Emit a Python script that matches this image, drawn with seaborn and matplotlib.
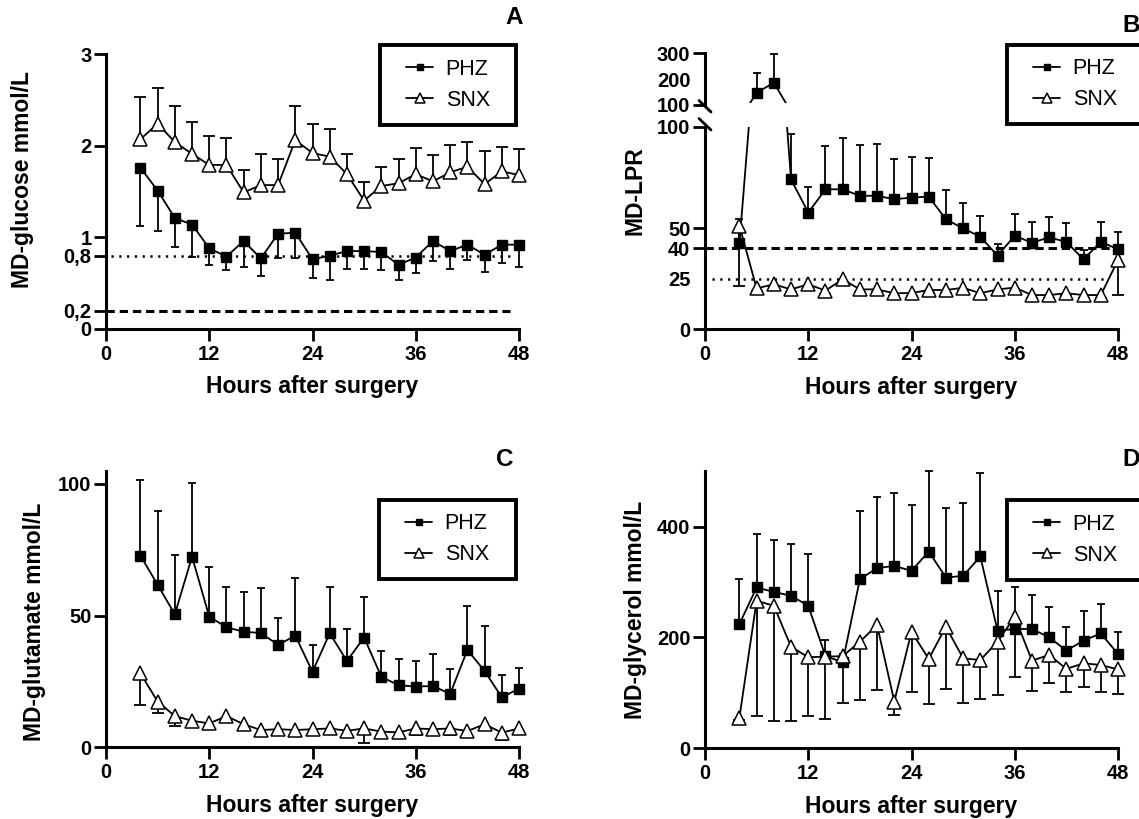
import numpy as np
import pandas as pd
import matplotlib
matplotlib.use("Agg")
import matplotlib.pyplot as plt
import seaborn as sns
from matplotlib.lines import Line2D
from matplotlib.legend_handler import HandlerLine2D
from matplotlib.transforms import Bbox, TransformedBbox

# ---------------- data ----------------
hours = list(range(4, 49, 2))
groups = ["PHZ", "SNX"]

# A: MD-glucose (mmol/L) -- PHZ error bars down, SNX up
glu_phz = [1.76, 1.51, 1.21, 1.14, 0.88, 0.79, 0.96, 0.77, 1.04, 1.05, 0.76, 0.80,
           0.85, 0.85, 0.84, 0.70, 0.78, 0.96, 0.85, 0.92, 0.81, 0.92, 0.92]
glu_phz_sd = [0.64, 0.44, 0.32, 0.35, 0.18, 0.15, 0.28, 0.19, 0.26, 0.28, 0.20, 0.26,
              0.20, 0.19, 0.20, 0.17, 0.17, 0.22, 0.19, 0.17, 0.19, 0.20, 0.24]
glu_snx = [2.07, 2.24, 2.04, 1.91, 1.79, 1.79, 1.49, 1.57, 1.57, 2.06, 1.92, 1.88,
           1.69, 1.40, 1.56, 1.59, 1.69, 1.61, 1.71, 1.77, 1.58, 1.72, 1.68]
glu_snx_sd = [0.46, 0.39, 0.39, 0.35, 0.32, 0.29, 0.24, 0.34, 0.29, 0.37, 0.32, 0.30,
              0.22, 0.20, 0.21, 0.26, 0.28, 0.29, 0.30, 0.27, 0.36, 0.27, 0.28]
glu_ref_dotted = 0.8
glu_ref_dashed = 0.2
glu_ticks = [0, 0.2, 0.8, 1, 2, 3]
glu_ticklabels = ["0", "0,2", "0,8", "1", "2", "3"]

# B: MD-LPR -- PHZ error bars up, SNX down
lpr_phz = [42.4, 147.6, 186.0, 74.0, 57.6, 69.1, 69.1, 65.9, 65.9, 64.2, 65.0, 65.5,
           54.3, 49.8, 45.7, 36.3, 46.2, 42.7, 45.4, 43.1, 34.5, 43.2, 39.5]
lpr_phz_sd = [12.0, 75.0, 111.0, 22.2, 12.8, 21.4, 25.2, 25.1, 25.6, 19.7, 20.2, 19.0,
              14.5, 12.7, 10.4, 5.7, 10.6, 10.3, 9.9, 9.2, 4.6, 9.6, 8.5]
lpr_snx = [51.1, 20.2, 22.2, 19.7, 22.2, 19.1, 24.7, 19.7, 19.7, 17.8, 17.9, 19.4,
           19.4, 20.5, 17.8, 19.7, 20.6, 16.9, 16.9, 17.8, 16.9, 16.9, 34.2]
lpr_snx_sd = [29.6, 1.5, 1.5, 1.5, 1.5, 1.5, 1.5, 1.5, 1.5, 1.5, 1.5, 1.5,
              1.5, 1.5, 1.5, 1.5, 1.5, 1.5, 1.5, 1.5, 1.5, 1.5, 17.3]
lpr_ref_dashed = 40
lpr_ref_dotted = 25
lpr_ticks_low = [0, 25, 40, 50, 100]
lpr_ticks_high = [100, 200, 300]

# C: MD-glutamate -- PHZ up, SNX down
glut_phz = [72.8, 61.7, 50.5, 72.4, 49.6, 45.6, 43.9, 43.4, 38.9, 42.4, 28.7, 43.3,
            32.8, 41.7, 26.8, 23.6, 23.1, 23.3, 20.3, 37.0, 29.0, 19.0, 22.3]
glut_phz_sd = [28.7, 28.0, 22.4, 27.9, 18.9, 15.4, 15.2, 16.9, 10.3, 22.0, 10.2, 17.7,
               12.0, 15.5, 9.8, 10.1, 9.5, 12.0, 9.3, 16.8, 17.2, 8.5, 7.8]
glut_snx = [28.1, 17.4, 11.9, 10.1, 9.1, 11.9, 8.8, 6.6, 6.9, 6.6, 6.9, 7.2,
            6.3, 7.2, 6.0, 5.7, 7.2, 6.9, 7.2, 6.2, 8.8, 5.6, 7.2]
glut_snx_sd = [12.0, 4.4, 3.7, 1.5, 1.5, 2.1, 1.5, 1.5, 1.5, 1.5, 1.5, 1.5,
               1.5, 5.4, 1.5, 1.5, 2.6, 1.5, 2.6, 1.5, 1.5, 2.8, 1.5]
glut_ticks = [0, 50, 100]

# D: MD-glycerol -- PHZ up, SNX down
gly_phz = [224, 290, 282, 275, 257, 166, 155, 305, 325, 329, 320, 355,
           308, 311, 346, 212, 215, 215, 200, 176, 194, 207, 170]
gly_phz_sd = [81, 97, 93, 94, 93, 30, 14, 123, 128, 132, 119, 145,
              125, 131, 150, 72, 76, 62, 54, 42, 54, 53, 39]
gly_snx = [55, 266, 257, 183, 164, 165, 166, 192, 222, 84, 210, 161,
           219, 162, 159, 192, 237, 158, 168, 143, 153, 150, 142]
gly_snx_sd = [4, 209, 208, 134, 107, 113, 84, 105, 118, 24, 108, 82,
              112, 81, 71, 96, 109, 55, 51, 42, 42, 49, 44]
gly_ticks = [0, 200, 400]

x_ticks = [0, 12, 24, 36, 48]

# ---------------- style ----------------
sns.set_style("ticks")
plt.rcParams.update({
    "font.family": ["Liberation Sans", "DejaVu Sans"],
    "font.weight": "bold",
    "axes.labelweight": "bold",
    "text.color": "black",
    "axes.labelcolor": "black",
    "axes.edgecolor": "black",
    "axes.linewidth": 2.2,
    "xtick.color": "black",
    "ytick.color": "black",
    "xtick.major.width": 2.0,
    "ytick.major.width": 2.0,
    "xtick.major.size": 8.5,
    "ytick.major.size": 8.5,
    "xtick.major.pad": 3,
    "ytick.major.pad": 2,
    "xtick.labelsize": 14.5,
    "ytick.labelsize": 14.5,
    "lines.scale_dashes": False,
})

W, H = 1139, 819
fig = plt.figure(figsize=(W / 100, H / 100), dpi=100)


def rect(x0, x1, ytop, ybot):
    return [x0 / W, 1 - ybot / H, (x1 - x0) / W, (ybot - ytop) / H]


axA = fig.add_axes(rect(106, 519, 54, 329))
axBt = fig.add_axes(rect(705, 1118, 53.3, 105))
axBb = fig.add_axes(rect(705, 1118, 126.7, 329.3))
axC = fig.add_axes(rect(106, 519, 470.7, 747.4))
axD = fig.add_axes(rect(705, 1118, 470.7, 748))


def plot_group(ax, vals, sd, direction, kind, clip=None):
    df = pd.DataFrame({"hour": hours, "value": vals, "sd": sd, "group": kind})
    tips = df["value"] + df["sd"] if direction == "up" else df["value"] - df["sd"]
    capw = 6.0 if kind == "PHZ" else 9.0
    bars = ax.vlines(df["hour"], df["value"], tips, colors="black",
                     linewidth=1.3, zorder=2)
    caps, = ax.plot(df["hour"], tips, linestyle="none", marker="_",
                    markersize=capw, markeredgewidth=1.3, color="black", zorder=2)
    if kind == "PHZ":
        sns.lineplot(data=df, x="hour", y="value", ax=ax, color="black",
                     linewidth=1.3, marker="s", markersize=6.8,
                     markerfacecolor="black", markeredgecolor="black",
                     markeredgewidth=1.0, errorbar=None, legend=False, zorder=3)
    else:
        sns.lineplot(data=df, x="hour", y="value", ax=ax, color="black",
                     linewidth=1.3, marker="^", markersize=10.5,
                     markerfacecolor="white", markeredgecolor="black",
                     markeredgewidth=1.1, errorbar=None, legend=False, zorder=3)
    line = ax.lines[-1]
    for art in (bars, caps, line):
        if clip is not None:
            art.set_clip_box(TransformedBbox(Bbox(clip), ax.transAxes))
        else:
            art.set_clip_on(False)
    return line


def style_axis(ax, ylim, yticks, yticklabels=None):
    sns.despine(ax=ax)
    ax.set_xlim(0, 48)
    ax.set_ylim(*ylim)
    ax.set_xticks(x_ticks)
    ax.set_yticks(yticks)
    if yticklabels is not None:
        ax.set_yticklabels(yticklabels)
    ax.set_xlabel("Hours after surgery", fontsize=16.5)
    height_px = ax.get_position().height * H
    ax.xaxis.set_label_coords(0.5, -58.0 / height_px)
    ax.xaxis.label.set_va("center")


def add_legend(ax, handles, x0, ytop, x1, ybot):
    leg = ax.legend(handles, groups, loc="upper left",
                    bbox_to_anchor=(x0 / W, 1 - ybot / H, (x1 - x0) / W, (ybot - ytop) / H),
                    bbox_transform=fig.transFigure, mode="expand",
                    prop={"weight": "normal", "size": 15.5},
                    frameon=True, fancybox=False, framealpha=1, edgecolor="black",
                    borderpad=0.65, labelspacing=0.45, handlelength=1.8,
                    handletextpad=0.6, markerscale=0.72, borderaxespad=0,
                    handler_map={Line2D: HandlerLine2D(xpad=0.58)})
    leg.get_frame().set_linewidth(2.8)
    leg.set_zorder(10)
    return leg


dotted = (0, (1.6, 4.0))
dashed = (0, (6.0, 3.5))

# ---------------- A ----------------
hA1 = plot_group(axA, glu_phz, glu_phz_sd, "down", "PHZ")
hA2 = plot_group(axA, glu_snx, glu_snx_sd, "up", "SNX")
axA.hlines(glu_ref_dotted, 0.6, 47, colors="black", linestyles=dotted, linewidth=1.8, zorder=1)
axA.hlines(glu_ref_dashed, 0, 47, colors="black", linestyles=dashed, linewidth=2.2, zorder=1)
style_axis(axA, (0, 3), glu_ticks, glu_ticklabels)
axA.set_ylabel("MD-glucose mmol/L", fontsize=16.5)
axA.yaxis.set_label_coords(-0.201, 0.542)
axA.yaxis.label.set_va("center")
add_legend(axA, [hA1, hA2], 380, 45, 516, 131)

# ---------------- B (broken axis) ----------------
hB1 = plot_group(axBt, lpr_phz, lpr_phz_sd, "up", "PHZ", clip=[[-0.05, 0.03], [1.05, 1]])
hB2 = plot_group(axBt, lpr_snx, lpr_snx_sd, "down", "SNX", clip=[[-0.05, 0.03], [1.05, 1]])
hB1 = plot_group(axBb, lpr_phz, lpr_phz_sd, "up", "PHZ", clip=[[-0.05, 0], [1.05, 1]])
hB2 = plot_group(axBb, lpr_snx, lpr_snx_sd, "down", "SNX", clip=[[-0.05, 0], [1.05, 1]])
axBb.hlines(lpr_ref_dashed, 0, 48, colors="black", linestyles=dashed, linewidth=2.2, zorder=1)
axBb.hlines(lpr_ref_dotted, 0.8, 46.5, colors="black", linestyles=dotted, linewidth=1.8, zorder=1)
style_axis(axBb, (0, 100), lpr_ticks_low)
sns.despine(ax=axBt, bottom=True)
axBt.set_xlim(0, 48)
axBt.set_ylim(100, 300)
axBt.set_yticks(lpr_ticks_high)
axBt.tick_params(axis="x", bottom=False, labelbottom=False)
axBt.set_xlabel("")
axBt.set_ylabel("")
for ax, loc in ((axBt, 100), (axBb, 100)):
    for t in ax.yaxis.get_major_ticks():
        if abs(t.get_loc() - loc) < 1e-9:
            t.tick1line.set_visible(False)
axBb.set_ylabel("MD-LPR", fontsize=16.5)
axBb.yaxis.set_label_coords(-0.169, 0.685)
axBb.yaxis.label.set_va("center")
for (xa, ya, xb, yb) in ((699, 100.5, 711, 112.0), (699, 118.5, 711, 130.0)):
    fig.add_artist(Line2D([xa / W, xb / W], [1 - ya / H, 1 - yb / H],
                          transform=fig.transFigure, color="black", linewidth=2.0))
add_legend(axBb, [hB1, hB2], 1007, 44.5, 1143, 131)

# ---------------- C ----------------
hC1 = plot_group(axC, glut_phz, glut_phz_sd, "up", "PHZ")
hC2 = plot_group(axC, glut_snx, glut_snx_sd, "down", "SNX")
style_axis(axC, (0, 105), glut_ticks)
axC.set_ylabel("MD-glutamate mmol/L", fontsize=16.5)
axC.yaxis.set_label_coords(-0.174, 0.453)
axC.yaxis.label.set_va("center")
add_legend(axC, [hC1, hC2], 379, 499.5, 516, 587)

# ---------------- D ----------------
hD1 = plot_group(axD, gly_phz, gly_phz_sd, "up", "PHZ")
hD2 = plot_group(axD, gly_snx, gly_snx_sd, "down", "SNX")
style_axis(axD, (0, 501), gly_ticks)
axD.set_ylabel("MD-glycerol mmol/L", fontsize=16.5)
axD.yaxis.set_label_coords(-0.169, 0.498)
axD.yaxis.label.set_va("center")
add_legend(axD, [hD1, hD2], 1007, 500, 1143, 586.5)

# panel letters
for letter, (px, py) in {"A": (514, 18), "B": (1131, 25), "C": (505, 460), "D": (1131, 459)}.items():
    fig.text(px / W, 1 - py / H, letter, ha="center", va="center",
             fontsize=17.5, fontweight="bold")

fig.savefig("out.png", dpi=100)
